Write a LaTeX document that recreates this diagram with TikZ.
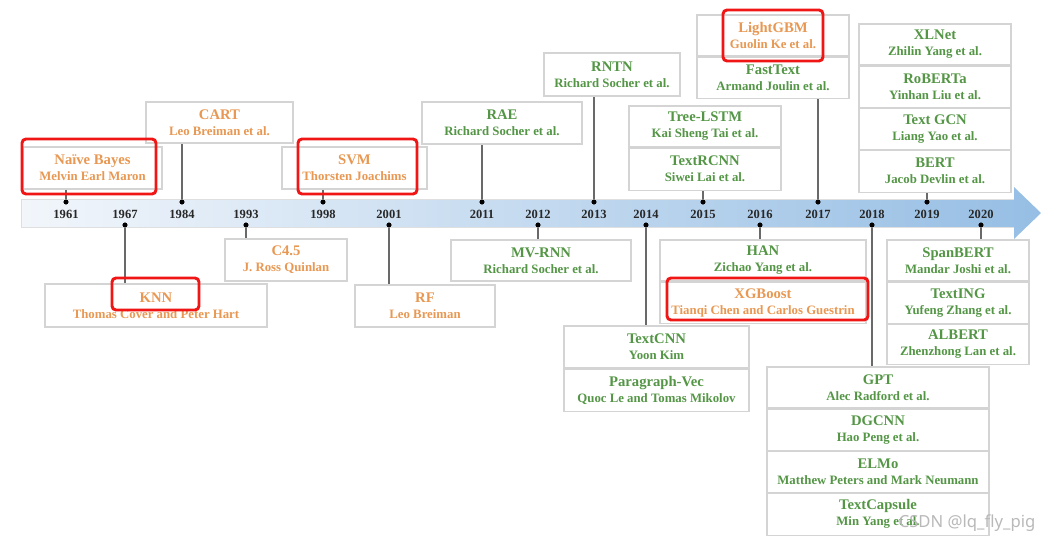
\documentclass[tikz,border=0pt]{standalone}
\usepackage{fontspec}
\setmainfont{Liberation Serif}
\newfontfamily\wmfont{Noto Sans}
\definecolor{orangeT}{RGB}{232,152,82}
\definecolor{greenT}{RGB}{84,150,70}
\definecolor{boxgray}{RGB}{212,212,212}
\definecolor{linegray}{RGB}{105,105,105}
\definecolor{redbox}{RGB}{240,22,22}
\definecolor{barL}{RGB}{242,246,251}
\definecolor{barR}{RGB}{150,190,228}
\definecolor{yearC}{RGB}{40,40,40}
\newcommand\boxtitle{\fontsize{11}{13.4}\selectfont\bfseries}
\newcommand\boxsub{\fontsize{9.6}{13.4}\selectfont\bfseries}
\newcommand\entry[2]{{\boxtitle #1}\\{\boxsub #2}}
\begin{document}
\begin{tikzpicture}[x=0.75pt,y=-0.75pt,
  bw/.style={minimum width=#1*0.75pt},
  bh/.style={minimum height=#1*0.75pt},
  cell/.style={draw=boxgray,line width=0.8pt,fill=white,inner sep=0pt,align=center},
  orng/.style={cell,text=orangeT},
  grn/.style={cell,text=greenT},
  conn/.style={draw=linegray,line width=1.1pt},
  dot/.style={circle,fill=black,inner sep=0pt,minimum size=3.6pt},
  year/.style={font=\fontsize{9.4}{10}\selectfont\bfseries,text=yearC},
  hl/.style={draw=redbox,line width=2.2pt,rounded corners=3pt,inner sep=0pt}]
\useasboundingbox (0,0) rectangle (1053,543);
% timeline arrow
\path[left color=barL,right color=barR]
  (21,199) -- (1014,199) -- (1014,187) -- (1041,213) -- (1014,239) -- (1014,227) -- (21,227) -- cycle;
\draw[gray!25,line width=0.5pt] (1014,199) -- (21,199) -- (21,227) -- (1014,227);
% dots and years on the bar
\foreach \yr/\x/\y in {1961/66/202,1967/125/225,1984/182/202,1993/246/225,1998/323/202,2001/389/225,
  2011/482/202,2012/538/225,2013/594/202,2014/646/225,2015/703/202,2016/760/225,2017/818/202,
  2018/872/225,2019/927/202,2020/981/225}{
  \node[dot] (d\yr) at (\x,\y) {};
  \node[year] (y\yr) at (\x,214) {\yr};
}
% boxes
\node[orng,bw=139,bh=42] (nb) at (92.5,168) {\entry{Naïve Bayes}{Melvin Earl Maron}};
\node[orng,bw=147,bh=41] (cart) at (219.5,122.5) {\entry{CART}{Leo Breiman et al.}};
\node[orng,bw=145,bh=42] (svm) at (354.5,168) {\entry{SVM}{Thorsten Joachims}};
\node[grn,bw=160,bh=42] (rae) at (502,123) {\entry{RAE}{Richard Socher et al.}};
\node[grn,bw=136,bh=43] (rntn) at (612,74.5) {\entry{RNTN}{Richard Socher et al.}};
\node[grn,bw=152,bh=41] (tlstm) at (705,126.5) {\entry{Tree-LSTM}{Kai Sheng Tai et al.}};
\node[grn,bw=152,bh=42,anchor=north] (trcnn) at (tlstm.south) {\entry{TextRCNN}{Siwei Lai et al.}};
\node[orng,bw=152,bh=41] (lgbm) at (773,35.5) {\entry{LightGBM}{Guolin Ke et al.}};
\node[grn,bw=152,bh=41,anchor=north] (ftext) at (lgbm.south) {\entry{FastText}{Armand Joulin et al.}};
\node[grn,bw=152,bh=41] (xlnet) at (935,44.5) {\entry{XLNet}{Zhilin Yang et al.}};
\node[grn,bw=152,bh=41,anchor=north] (roberta) at (xlnet.south) {\entry{RoBERTa}{Yinhan Liu et al.}};
\node[grn,bw=152,bh=41,anchor=north] (tgcn) at (roberta.south) {\entry{Text GCN}{Liang Yao et al.}};
\node[grn,bw=152,bh=42,anchor=north] (bert) at (tgcn.south) {\entry{BERT}{Jacob Devlin et al.}};
\node[orng,bw=122,bh=42] (c45) at (286,260) {\entry{C4.5}{J. Ross Quinlan}};
\node[orng,bw=222,bh=43] (knn) at (156,305.5) {\entry{KNN}{Thomas Cover and Peter Hart}};
\node[orng,bw=140,bh=42] (rf) at (425,306) {\entry{RF}{Leo Breiman}};
\node[grn,bw=180,bh=41] (mvrnn) at (541,260.5) {\entry{MV-RNN}{Richard Socher et al.}};
\node[grn,bw=206,bh=41] (han) at (763,260.5) {\entry{HAN}{Zichao Yang et al.}};
\node[orng,bw=206,bh=41,anchor=north] (xgb) at (han.south) {\entry{XGBoost}{Tianqi Chen and Carlos Guestrin}};
\node[grn,bw=185,bh=42] (tcnn) at (656.5,347) {\entry{TextCNN}{Yoon Kim}};
\node[grn,bw=185,bh=42,anchor=north] (pvec) at (tcnn.south) {\entry{Paragraph-Vec}{Quoc Le and Tomas Mikolov}};
\node[grn,bw=142,bh=41] (span) at (958,260.5) {\entry{SpanBERT}{Mandar Joshi et al.}};
\node[grn,bw=142,bh=41,anchor=north] (texting) at (span.south) {\entry{TextING}{Yufeng Zhang et al.}};
\node[grn,bw=142,bh=40,anchor=north] (albert) at (texting.south) {\entry{ALBERT}{Zhenzhong Lan et al.}};
\node[grn,bw=222,bh=41] (gpt) at (878,387.5) {\entry{GPT}{Alec Radford et al.}};
\node[grn,bw=222,bh=41,anchor=north] (dgcnn) at (gpt.south) {\entry{DGCNN}{Hao Peng et al.}};
\node[grn,bw=222,bh=41,anchor=north] (elmo) at (dgcnn.south) {\entry{ELMo}{Matthew Peters and Mark Neumann}};
\node[grn,bw=222,bh=42,anchor=north] (tcaps) at (elmo.south) {\entry{TextCapsule}{Min Yang et al.}};
% connectors
\foreach \d/\b/\a in {1961/nb/south,1984/cart/south,1998/svm/south,2011/rae/south,2013/rntn/south,
  2015/trcnn/south,2017/ftext/south,2019/bert/south,1967/knn/north,1993/c45/north,2001/rf/north,
  2012/mvrnn/north,2014/tcnn/north,2016/han/north,2018/gpt/north,2020/span/north}{
  \draw[conn] (d\d) -- (d\d |- \b.\a);
  \node[dot] at (d\d) {};
}
% highlights
\node[hl,bw=134,bh=55] (hnb) at (89,166.5) {};
\node[hl,bw=119,bh=55] (hsvm) at (357.5,166.5) {};
\node[hl,bw=100,bh=51] (hlgbm) at (773,35.5) {};
\node[hl,bw=87,bh=32] (hknn) at (155.5,294) {};
\node[hl,bw=201,bh=42] (hxgb) at (767.5,299) {};
% watermark
\node[text=gray!55,font=\wmfont\fontsize{12.5}{14}\selectfont,anchor=east] (wm) at (1040,523) {CSDN @lq\_fly\_pig};
\end{tikzpicture}
\end{document}
